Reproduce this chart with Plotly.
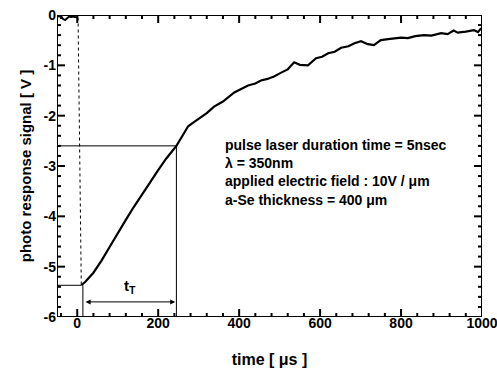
import numpy as np
import plotly.graph_objects as go

# time [us] and signal [V]
time_us = [-50, -45, -40, -35, -30, -25, -20, -15, -10, -5, 0, 2,
           10, 20, 40, 60, 80, 100, 120, 140, 160, 180, 200, 220, 245,
           260, 274, 290, 306, 320, 338, 360, 388, 405, 422, 440, 454,
           470, 486, 505, 520, 536, 550, 570, 590, 605, 620, 636, 652,
           670, 685, 701, 718, 733, 750, 768, 785, 800, 817, 835, 857,
           875, 899, 915, 930, 940, 960, 980, 990, 998]
signal_v = [-0.02, -0.03, -0.02, -0.08, -0.10, -0.06, -0.03, -0.04, -0.03, -0.04, -0.04, -0.05,
            -5.37, -5.30, -5.12, -4.88, -4.61, -4.33, -4.07, -3.81, -3.56, -3.32, -3.08, -2.85, -2.60,
            -2.40, -2.21, -2.12, -2.03, -1.95, -1.82, -1.72, -1.54, -1.47, -1.40, -1.36, -1.30,
            -1.27, -1.22, -1.14, -1.08, -0.94, -0.99, -1.00, -0.86, -0.83, -0.76, -0.73, -0.65,
            -0.62, -0.56, -0.52, -0.58, -0.60, -0.50, -0.48, -0.47, -0.45, -0.46, -0.42, -0.40,
            -0.41, -0.36, -0.38, -0.31, -0.35, -0.33, -0.30, -0.34, -0.26]

x_ticks = [0, 200, 400, 600, 800, 1000]
y_ticks = [-6, -5, -4, -3, -2, -1, 0]
x_minor_step = 40
y_minor_step = 0.2

t_start = 14       # start of transit
t_end = 245        # end of transit
v_min = -5.37      # minimum of signal
v_knee = -2.60     # signal at end of transit

info_lines = ["pulse laser duration time = 5nsec",
              "λ = 350nm",
              "applied electric field : 10V / μm",
              "a-Se thickness = 400 μm"]

font_family = "Liberation Sans, Arial, sans-serif"
x_range = [-50, 1000]
y_range = [-6, 0]

# plot size in pixels, used to convert tick lengths into data units
W, H = 497, 373
M = dict(l=57, r=15, t=15, b=56)
px_x = (x_range[1] - x_range[0]) / (W - M["l"] - M["r"])
px_y = (y_range[1] - y_range[0]) / (H - M["t"] - M["b"])

x_minor = [float(v) for v in np.arange(-40, x_range[1] + 1, x_minor_step) if v not in x_ticks]
y_minor = [round(float(v), 2) for v in np.arange(y_range[0], y_range[1] + 0.01, y_minor_step)
           if round(float(v), 2) not in y_ticks]

fig = go.Figure()

fig.add_trace(go.Scatter(x=time_us[:12], y=signal_v[:12], mode="lines",
                         line=dict(color="black", width=2), showlegend=False))
fig.add_trace(go.Scatter(x=time_us[11:13], y=signal_v[11:13], mode="lines",
                         line=dict(color="black", width=1, dash="dot"), showlegend=False))
fig.add_trace(go.Scatter(x=time_us[12:], y=signal_v[12:], mode="lines",
                         line=dict(color="black", width=2.2), showlegend=False))

# inward tick segments on all four sides, built from the tick lists
tx, ty = [], []
for vals, length in ((x_ticks, 8), (x_minor, 4)):
    for v in vals:
        tx += [v, v, None, v, v, None]
        ty += [y_range[0], y_range[0] + length * px_y, None,
               y_range[1], y_range[1] - length * px_y, None]
for vals, length in ((y_ticks, 8), (y_minor, 4)):
    for v in vals:
        tx += [x_range[0], x_range[0] + length * px_x, None,
               x_range[1], x_range[1] - length * px_x, None]
        ty += [v, v, None, v, v, None]
fig.add_trace(go.Scatter(x=tx, y=ty, mode="lines", cliponaxis=False, showlegend=False,
                         hoverinfo="skip", line=dict(color="black", width=2)))

# frame as a line trace
fig.add_trace(go.Scatter(x=[x_range[0], x_range[1], x_range[1], x_range[0], x_range[0]],
                         y=[y_range[0], y_range[0], y_range[1], y_range[1], y_range[0]],
                         mode="lines", cliponaxis=False, showlegend=False, hoverinfo="skip",
                         line=dict(color="black", width=2)))

guide = dict(color="black", width=1)
fig.add_shape(type="line", x0=x_range[0], x1=t_end, y0=v_knee, y1=v_knee, line=guide)
fig.add_shape(type="line", x0=t_end, x1=t_end, y0=v_knee, y1=y_range[0], line=guide)
fig.add_shape(type="line", x0=x_range[0], x1=time_us[12], y0=v_min, y1=v_min, line=guide)
fig.add_shape(type="line", x0=t_start, x1=t_start, y0=v_min, y1=y_range[0], line=guide)

fig.add_annotation(x=t_end - 3, y=-5.70, ax=t_start + 3, ay=-5.70,
                   xref="x", yref="y", axref="x", ayref="y",
                   text="", showarrow=True, arrowhead=2, arrowside="end+start",
                   arrowsize=1, arrowwidth=1, arrowcolor="black")
fig.add_annotation(x=(t_start + t_end) / 2, y=-5.40, xref="x", yref="y",
                   text="<b>t<sub>T</sub></b>", showarrow=False,
                   font=dict(family=font_family, size=15, color="black"))

fig.add_annotation(x=360, y=-2.38, xref="x", yref="y", xanchor="left", yanchor="top",
                   align="left", showarrow=False,
                   text="<br>".join("<b>" + s + "</b>" for s in info_lines),
                   font=dict(family=font_family, size=14, color="black"))

# x tick labels as text so the last one (1000) is always drawn
fig.add_trace(go.Scatter(x=x_ticks, y=[y_range[0]] * len(x_ticks), mode="text",
                         text=["<b>%d</b>" % v for v in x_ticks], textposition="bottom center",
                         cliponaxis=False, showlegend=False, hoverinfo="skip",
                         textfont=dict(family=font_family, size=14, color="black")))

axis_common = dict(showgrid=False, zeroline=False, showline=False, ticks="",
                   automargin=False,
                   tickfont=dict(family=font_family, size=14, color="black"))

fig.update_layout(
    width=W, height=H, margin=dict(**M, autoexpand=False),
    paper_bgcolor="white", plot_bgcolor="white",
    font=dict(family=font_family, color="black"),
    xaxis=dict(range=x_range, tickvals=x_ticks, showticklabels=False,
               title=dict(text="<b>time [ μs ]</b>", standoff=36,
                          font=dict(family=font_family, size=16, color="black")),
               **axis_common),
    yaxis=dict(range=y_range, tickvals=y_ticks,
               ticktext=["<b>%d</b>" % v for v in y_ticks],
               title=dict(text="<b>photo response signal [ V ]</b>", standoff=8,
                          font=dict(family=font_family, size=15, color="black")),
               **axis_common),
)

fig.write_html("out.html")
